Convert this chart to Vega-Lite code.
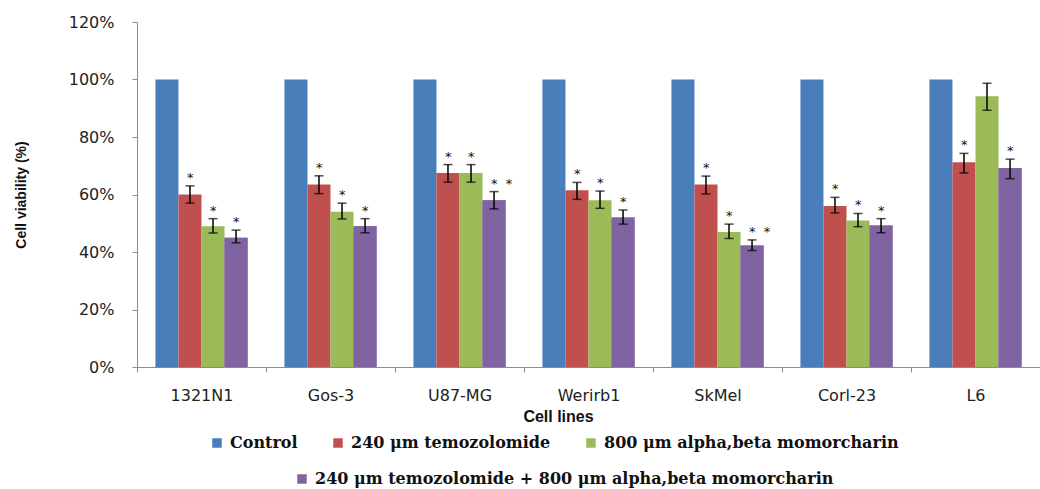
{
  "$schema": "https://vega.github.io/schema/vega-lite/v6.json",
  "autosize": {"type": "none"},
  "padding": {"left": 137, "top": 22, "right": 0, "bottom": 122},
  "width": 903,
  "height": 345,
  "background": "white",
  "config": {
    "view": {"stroke": null},
    "font": "DejaVu Sans"
  },
  "data": {
    "values": [
      {"cell": "1321N1", "group": "Control", "value": 100},
      {"cell": "1321N1", "group": "240 μm temozolomide", "value": 60, "lo": 57, "hi": 63, "sig": "*"},
      {"cell": "1321N1", "group": "800 μm alpha,beta momorcharin", "value": 49, "lo": 46.6, "hi": 51.6, "sig": "*"},
      {"cell": "1321N1", "group": "240 μm temozolomide + 800 μm alpha,beta momorcharin", "value": 45, "lo": 43.2, "hi": 47.6, "sig": "*"},
      {"cell": "Gos-3", "group": "Control", "value": 100},
      {"cell": "Gos-3", "group": "240 μm temozolomide", "value": 63.5, "lo": 60.3, "hi": 66.5, "sig": "*"},
      {"cell": "Gos-3", "group": "800 μm alpha,beta momorcharin", "value": 54, "lo": 51.5, "hi": 57, "sig": "*"},
      {"cell": "Gos-3", "group": "240 μm temozolomide + 800 μm alpha,beta momorcharin", "value": 49, "lo": 46.7, "hi": 51.6, "sig": "*"},
      {"cell": "U87-MG", "group": "Control", "value": 100},
      {"cell": "U87-MG", "group": "240 μm temozolomide", "value": 67.5, "lo": 64.3, "hi": 70.4, "sig": "*"},
      {"cell": "U87-MG", "group": "800 μm alpha,beta momorcharin", "value": 67.5, "lo": 64.3, "hi": 70.4, "sig": "*"},
      {"cell": "U87-MG", "group": "240 μm temozolomide + 800 μm alpha,beta momorcharin", "value": 58, "lo": 55, "hi": 61, "sig": "* \u00a0*"},
      {"cell": "Werirb1", "group": "Control", "value": 100},
      {"cell": "Werirb1", "group": "240 μm temozolomide", "value": 61.5, "lo": 58.3, "hi": 64.2, "sig": "*"},
      {"cell": "Werirb1", "group": "800 μm alpha,beta momorcharin", "value": 58, "lo": 55.2, "hi": 61.2, "sig": "*"},
      {"cell": "Werirb1", "group": "240 μm temozolomide + 800 μm alpha,beta momorcharin", "value": 52, "lo": 49.7, "hi": 54.6, "sig": "*"},
      {"cell": "SkMel", "group": "Control", "value": 100},
      {"cell": "SkMel", "group": "240 μm temozolomide", "value": 63.5, "lo": 60.2, "hi": 66.4, "sig": "*"},
      {"cell": "SkMel", "group": "800 μm alpha,beta momorcharin", "value": 47, "lo": 44.7, "hi": 49.7, "sig": "*"},
      {"cell": "SkMel", "group": "240 μm temozolomide + 800 μm alpha,beta momorcharin", "value": 42.3, "lo": 40.5, "hi": 44.2, "sig": "* \u00a0*"},
      {"cell": "Corl-23", "group": "Control", "value": 100},
      {"cell": "Corl-23", "group": "240 μm temozolomide", "value": 56, "lo": 53.6, "hi": 59, "sig": "*"},
      {"cell": "Corl-23", "group": "800 μm alpha,beta momorcharin", "value": 51, "lo": 48.8, "hi": 53.4, "sig": "*"},
      {"cell": "Corl-23", "group": "240 μm temozolomide + 800 μm alpha,beta momorcharin", "value": 49.2, "lo": 46.7, "hi": 51.6, "sig": "*"},
      {"cell": "L6", "group": "Control", "value": 100},
      {"cell": "L6", "group": "240 μm temozolomide", "value": 71.2, "lo": 67.5, "hi": 74.3, "sig": "*"},
      {"cell": "L6", "group": "800 μm alpha,beta momorcharin", "value": 94.2, "lo": 89.3, "hi": 98.7},
      {"cell": "L6", "group": "240 μm temozolomide + 800 μm alpha,beta momorcharin", "value": 69.2, "lo": 65.5, "hi": 72.3, "sig": "*"}
    ]
  },
  "encoding": {
    "x": {
      "field": "cell",
      "type": "nominal",
      "sort": ["1321N1", "Gos-3", "U87-MG", "Werirb1", "SkMel", "Corl-23", "L6"],
      "scale": {"paddingInner": 0, "paddingOuter": 0},
      "axis": {
        "title": "Cell lines",
        "labelAngle": 0,
        "tickBand": "extent",
        "domainColor": "#8c8c8c",
        "tickColor": "#8c8c8c",
        "tickSize": 5,
        "labelPadding": 15,
        "labelFont": "DejaVu Sans",
        "labelFontSize": 16,
        "labelColor": "#222222",
        "titleFont": "Liberation Sans",
        "titleFontWeight": "bold",
        "titleFontSize": 16,
        "titleColor": "#111111",
        "titlePadding": 5,
        "titleX": 421
      }
    },
    "xOffset": {
      "field": "group",
      "type": "nominal",
      "sort": ["Control", "240 μm temozolomide", "800 μm alpha,beta momorcharin", "240 μm temozolomide + 800 μm alpha,beta momorcharin"],
      "scale": {"paddingInner": 0, "paddingOuter": 0.8}
    }
  },
  "layer": [
    {
      "mark": {"type": "bar"},
      "encoding": {
        "y": {
          "field": "value",
          "type": "quantitative",
          "scale": {"domain": [0, 120], "nice": false},
          "axis": {
            "title": "Cell viability (%)",
            "values": [0, 20, 40, 60, 80, 100, 120],
            "labelExpr": "datum.value + '%'",
            "grid": false,
            "domainColor": "#8c8c8c",
            "tickColor": "#8c8c8c",
            "tickSize": 5,
            "labelPadding": 18,
            "labelFont": "DejaVu Sans",
            "labelFontSize": 16,
            "labelColor": "#222222",
            "titleFont": "Liberation Sans",
            "titleFontWeight": "bold",
            "titleFontSize": 14,
            "titleColor": "#111111",
            "titlePadding": 40
          }
        },
        "color": {
          "field": "group",
          "type": "nominal",
          "sort": ["Control", "240 μm temozolomide", "800 μm alpha,beta momorcharin", "240 μm temozolomide + 800 μm alpha,beta momorcharin"],
          "scale": {"range": ["#4a7ebb", "#c0504d", "#9bbb59", "#8064a2"]},
          "legend": {
            "title": null,
            "values": ["Control", "240 μm temozolomide", "800 μm alpha,beta momorcharin"],
            "orient": "none",
            "legendX": 72,
            "legendY": 413,
            "direction": "horizontal",
            "symbolType": "square",
            "symbolSize": 90,
            "symbolStrokeWidth": 0,
            "labelFont": "DejaVu Serif",
            "labelFontWeight": "bold",
            "labelFontSize": 16,
            "labelColor": "#111111",
            "labelLimit": 600,
            "labelOffset": 5,
            "columnPadding": 32
          }
        }
      }
    },
    {
      "transform": [{"filter": "datum.group === '240 μm temozolomide + 800 μm alpha,beta momorcharin'"}],
      "mark": {"type": "bar"},
      "encoding": {
        "y": {"field": "value", "type": "quantitative"},
        "fill": {
          "field": "group",
          "type": "nominal",
          "scale": {"range": ["#8064a2"]},
          "legend": {
            "title": null,
            "orient": "none",
            "legendX": 157,
            "legendY": 449,
            "direction": "horizontal",
            "symbolType": "square",
            "symbolSize": 90,
            "symbolStrokeWidth": 0,
            "labelFont": "DejaVu Serif",
            "labelFontWeight": "bold",
            "labelFontSize": 16,
            "labelColor": "#111111",
            "labelLimit": 700,
            "labelOffset": 5
          }
        }
      }
    },
    {
      "mark": {"type": "rule", "color": "#000000", "strokeWidth": 1.5},
      "encoding": {
        "y": {"field": "lo", "type": "quantitative"},
        "y2": {"field": "hi"}
      }
    },
    {
      "mark": {"type": "tick", "color": "#000000", "thickness": 1.5, "size": 9},
      "encoding": {
        "y": {"field": "lo", "type": "quantitative"}
      }
    },
    {
      "mark": {"type": "tick", "color": "#000000", "thickness": 1.5, "size": 9},
      "encoding": {
        "y": {"field": "hi", "type": "quantitative"}
      }
    },
    {
      "transform": [{"filter": "isValid(datum.sig)"}],
      "mark": {"type": "text", "align": "left", "baseline": "alphabetic", "dx": -3, "dy": -4, "fontSize": 13, "font": "DejaVu Sans", "color": "#111111"},
      "encoding": {
        "y": {"field": "hi", "type": "quantitative"},
        "text": {"field": "sig"}
      }
    }
  ]
}
